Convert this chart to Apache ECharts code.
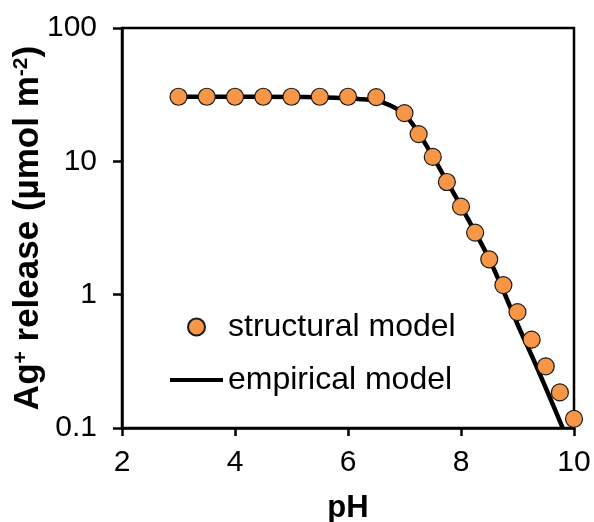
<!DOCTYPE html>
<html>
<head>
<meta charset="utf-8">
<script src="https://cdn.jsdelivr.net/npm/echarts@6/dist/echarts.min.js"></script>
<style>
html,body{margin:0;padding:0;background:#fff;}
#chart{width:594px;height:522px;}
</style>
</head>
<body>
<div id="chart"></div>
<script>
// Structural model (points)
const structPH  = [3, 3.5, 4, 4.5, 5, 5.5, 6, 6.5, 7, 7.25, 7.5, 7.75, 8, 8.25, 8.5, 8.75, 9, 9.25, 9.5, 9.75, 10];
const structVal = [30.5, 30.5, 30.5, 30.5, 30.5, 30.5, 30.5, 30.3, 23.0, 16.0, 10.8, 7.0, 4.57, 2.92, 1.84, 1.18, 0.74, 0.46, 0.29, 0.185, 0.117];
// Empirical model (line)
const empPH  = [3, 4, 5, 5.5, 6, 6.25, 6.5, 6.75, 7, 7.25, 7.5, 7.75, 8, 8.25, 8.5, 8.75, 9, 9.25, 9.5, 9.8];
const empVal = [30.5, 30.5, 30.4, 30.2, 29.7, 29.2, 28.6, 26.2, 22.6, 16.3, 10.9, 7.1, 4.6, 2.95, 1.85, 1.07, 0.6, 0.35, 0.2, 0.1];
const seriesNames = ['structural model', 'empirical model'];
const xTitle = 'pH';

const chart = echarts.init(document.getElementById('chart'));
const FONT = 'Liberation Sans, Arial, sans-serif';
const ORANGE = '#F79646';
chart.setOption({
  animation: false,
  backgroundColor: '#fff',
  textStyle: {fontFamily: FONT, color: '#000'},
  grid: {left: 122, right: 20, top: 28, bottom: 94, show: true, borderColor: '#000', borderWidth: 2.5,
         containLabel: false, outerBoundsMode: 'none'},
  legend: [
    {
      orient: 'horizontal', left: 187, top: 311, padding: 0,
      itemWidth: 53, itemHeight: 17, itemGap: 0,
      textStyle: {fontSize: 32, color: '#000', fontFamily: FONT},
      data: [{name: seriesNames[0], icon: 'circle'}]
    },
    {
      orient: 'horizontal', left: 170, top: 364, padding: 0,
      itemWidth: 53, itemHeight: 4, itemGap: 0,
      textStyle: {fontSize: 32, color: '#000', fontFamily: FONT},
      data: [{name: seriesNames[1], icon: 'rect', itemStyle: {color: '#000'}}]
    }
  ],
  xAxis: {
    type: 'value', min: 2, max: 10, interval: 2,
    name: xTitle, nameLocation: 'middle', nameGap: 65, nameMoveOverlap: false,
    nameTextStyle: {fontSize: 31, fontWeight: 'bold', color: '#000', fontFamily: FONT},
    axisLine: {lineStyle: {color: '#000', width: 2.5}},
    axisTick: {show: true, inside: false, length: 8, lineStyle: {color: '#000', width: 2.5}},
    axisLabel: {fontSize: 30, color: '#000', margin: 20, fontFamily: FONT},
    splitLine: {show: false}
  },
  yAxis: {
    type: 'log', logBase: 10, min: 0.1, max: 100,
    name: 'Ag{sup|+} release (µmol m{sup|-2})',
    nameLocation: 'middle', nameGap: 76, nameRotate: 90, nameMoveOverlap: false,
    nameTextStyle: {fontSize: 35, fontWeight: 'bold', color: '#000', fontFamily: FONT,
      rich: {sup: {fontSize: 21, fontWeight: 'bold', verticalAlign: 'top', padding: [0,0,12,0], fontFamily: FONT, color: '#000'}}},
    axisLine: {lineStyle: {color: '#000', width: 2.5}},
    axisTick: {show: true, inside: false, length: 9, lineStyle: {color: '#000', width: 2.5}},
    axisLabel: {fontSize: 30, color: '#000', margin: 25, fontFamily: FONT,
      formatter: function(v){ return v < 1 ? v.toFixed(1) : String(Math.round(v)); }},
    splitLine: {show: false},
    minorTick: {show: false}
  },
  series: [
    {
      name: seriesNames[1], type: 'line', z: 2,
      data: empPH.map((p, i) => [p, empVal[i]]),
      showSymbol: false, symbol: 'none', smooth: 0.3,
      lineStyle: {color: '#000', width: 4.5},
      itemStyle: {color: '#000'}
    },
    {
      name: seriesNames[0], type: 'scatter', z: 3,
      data: structPH.map((p, i) => [p, structVal[i]]),
      symbol: 'circle', symbolSize: 17,
      itemStyle: {color: ORANGE, borderColor: '#1a1a1a', borderWidth: 1.2, opacity: 1}
    }
  ]
});
</script>
</body>
</html>
